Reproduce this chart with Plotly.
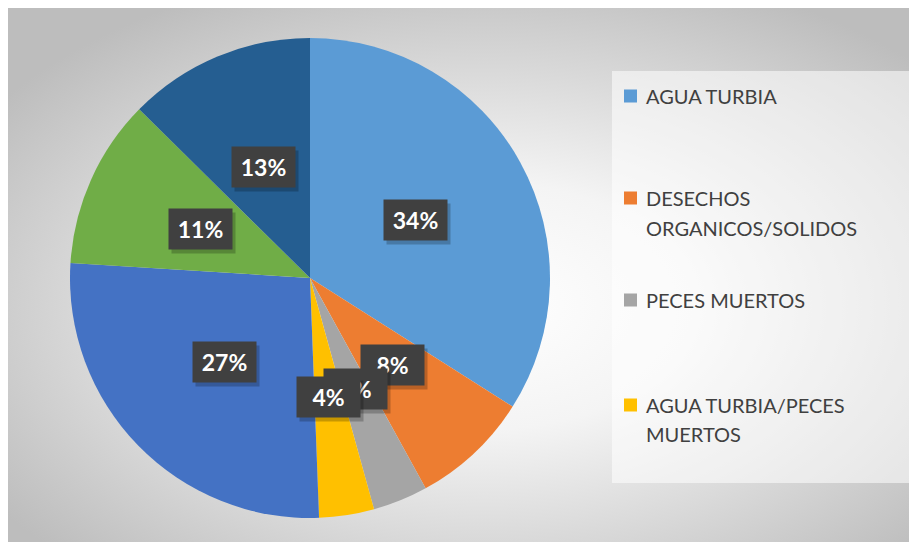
import base64
import numpy as np
import plotly.graph_objects as go

# ---- data ----
labels = ["AGUA TURBIA", "DESECHOS ORGANICOS/SOLIDOS", "PECES MUERTOS",
          "AGUA TURBIA/PECES MUERTOS", "AGUA TURBIA/DESECHOS", "MALOS OLORES", "OTROS"]
values = [34, 8, 3.7, 3.7, 26.6, 11.4, 12.6]
colors = ["#5B9BD5", "#ED7D31", "#A5A5A5", "#FFC000", "#4472C4", "#70AD47", "#255E91"]
legend_labels = [["AGUA TURBIA"], ["DESECHOS", "ORGANICOS/SOLIDOS"], ["PECES MUERTOS"],
                 ["AGUA TURBIA/PECES", "MUERTOS"]]

W, H = 917, 542
OX, OY = 8, 8  # page offset of the figure inside the window


def px_x(x):
    return (x - OX) / W


def px_y(y):
    return 1 - (y - OY) / H


CX, CY, R = 310, 278, 240  # pie placement in window pixels

fig = go.Figure()
fig.add_trace(go.Pie(
    labels=labels, values=values, sort=False, direction="clockwise", rotation=0,
    marker=dict(colors=colors, line=dict(width=0)),
    textinfo="none", showlegend=False,
    domain=dict(x=[px_x(CX - R), px_x(CX + R)], y=[px_y(CY + R), px_y(CY - R)]),
))

# background radial gradient (SVG image)
svg = ('<svg xmlns="http://www.w3.org/2000/svg" width="912" height="534">'
       '<defs><radialGradient id="g" cx="52%" cy="55%" r="65%">'
       '<stop offset="0" stop-color="#ffffff"/><stop offset="0.35" stop-color="#f4f4f4"/>'
       '<stop offset="1" stop-color="#bdbdbd"/></radialGradient></defs>'
       '<rect width="912" height="534" fill="url(#g)"/></svg>')
src = "data:image/svg+xml;base64," + base64.b64encode(svg.encode()).decode()
fig.add_layout_image(dict(source=src, xref="paper", yref="paper", x=0, y=1,
                          sizex=1, sizey=1, sizing="stretch", layer="below",
                          xanchor="left", yanchor="top"))

# legend box
fig.add_shape(type="rect", xref="paper", yref="paper", x0=px_x(612), x1=px_x(912),
              y0=px_y(483), y1=px_y(71), fillcolor="rgba(255,255,255,0.55)",
              line=dict(width=0), layer="below")

# data labels at half radius of each slice's mid-angle
vals = np.array(values, dtype=float)
frac = vals / vals.sum()
cum = np.cumsum(frac) - frac / 2
for f, m in zip(frac, cum):
    ang = 2 * np.pi * m
    px = CX + 0.5 * R * np.sin(ang)
    py = CY - 0.5 * R * np.cos(ang)
    txt = f"{round(f * 100):d}%"
    fig.add_annotation(x=px_x(px + 3), y=px_y(py + 4), xref="paper", yref="paper",
                       xanchor="center", yanchor="middle",
                       text=" ", showarrow=False, width=61, height=38,
                       bgcolor="rgba(0,0,0,0.22)")
    fig.add_annotation(x=px_x(px), y=px_y(py), xref="paper", yref="paper", text=f"<b>{txt}</b>",
                       xanchor="center", yanchor="middle",
                       showarrow=False, width=61, height=38, bgcolor="#404040",
                       font=dict(family="Lato", size=23, color="white"))

# manual legend
leg_y = [[96], [198, 228], [300], [405, 434]]
for i, (lines, ys) in enumerate(zip(legend_labels, leg_y)):
    fig.add_shape(type="rect", xref="paper", yref="paper", x0=px_x(624), x1=px_x(637),
                  y0=px_y(ys[0] + 6.5), y1=px_y(ys[0] - 6.5),
                  fillcolor=colors[i], line=dict(width=0))
    for t, yy in zip(lines, ys):
        fig.add_annotation(x=px_x(644), y=px_y(yy), xref="paper", yref="paper", text=t,
                           showarrow=False, xanchor="left", yanchor="middle",
                           font=dict(family="Lato", size=20, color="#404040"))

fig.update_layout(width=W, height=H, margin=dict(l=0, r=0, t=0, b=0),
                  paper_bgcolor="white", plot_bgcolor="white")
fig.write_html("out.html")
